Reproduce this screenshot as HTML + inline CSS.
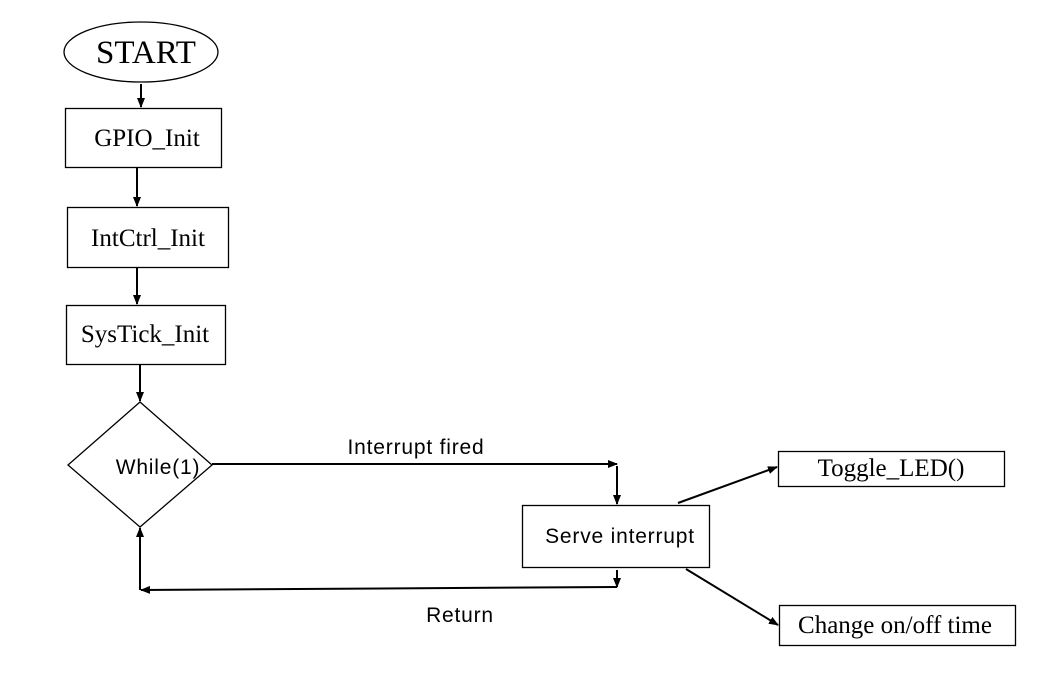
<!DOCTYPE html>
<html><head><style>body{margin:0;background:#fff}svg{display:block}</style></head><body>
<svg width="1056" height="676" xmlns="http://www.w3.org/2000/svg">
<defs><marker id="a" markerWidth="10" markerHeight="8" refX="9" refY="4" orient="auto" markerUnits="userSpaceOnUse"><path d="M0,0L10,4L0,8z" fill="#000"/></marker></defs>
<g fill="none" stroke="#000" stroke-width="1.3">
<ellipse cx="141" cy="52" rx="77" ry="30"/>
<rect x="65.5" y="108.5" width="156" height="59"/>
<rect x="67.5" y="207.5" width="161" height="60"/>
<rect x="66.5" y="305.5" width="159" height="59"/>
<path d="M140,402L212,465L140,527L68,465z"/>
<rect x="522.5" y="505.5" width="187" height="62"/>
<rect x="778.5" y="451.5" width="226" height="35"/>
<rect x="779.5" y="605.5" width="236" height="40"/>
</g>
<g stroke="#000" stroke-width="2" fill="none">
<line x1="141" y1="84" x2="141" y2="107" marker-end="url(#a)"/>
<line x1="137" y1="168" x2="137" y2="206" marker-end="url(#a)"/>
<line x1="137" y1="268" x2="137" y2="304" marker-end="url(#a)"/>
<line x1="140" y1="365" x2="140" y2="401" marker-end="url(#a)"/>
<line x1="212" y1="464" x2="617" y2="464" marker-end="url(#a)"/>
<line x1="617" y1="466" x2="617" y2="504" marker-end="url(#a)"/>
<line x1="617" y1="570" x2="617" y2="587" marker-end="url(#a)"/>
<line x1="617" y1="587" x2="141" y2="590" marker-end="url(#a)"/>
<line x1="140" y1="590" x2="140" y2="528" marker-end="url(#a)"/>
<line x1="678" y1="503" x2="777" y2="467" marker-end="url(#a)"/>
<line x1="686" y1="569" x2="778" y2="625" marker-end="url(#a)"/>
</g>
<g font-family="Liberation Serif, serif" fill="#000" text-anchor="middle">
<text x="146" y="63" font-size="33">START</text>
<text x="147" y="146" font-size="25">GPIO_Init</text>
<text x="148" y="246" font-size="25">IntCtrl_Init</text>
<text x="145" y="342" font-size="25">SysTick_Init</text>
<text x="891" y="476" font-size="25">Toggle_LED()</text>
<text x="895" y="633" font-size="25">Change on/off time</text>
</g>
<g font-family="Liberation Sans, sans-serif" fill="#000" text-anchor="middle" font-size="21" letter-spacing="0.8">
<text x="158" y="474">While(1)</text>
<text x="416" y="454">Interrupt fired</text>
<text x="620" y="543">Serve interrupt</text>
<text x="460" y="622">Return</text>
</g>
</svg>
</body></html>
